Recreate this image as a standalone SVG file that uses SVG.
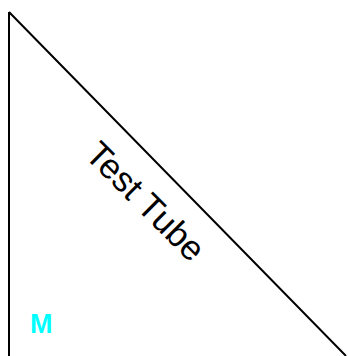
<svg xmlns="http://www.w3.org/2000/svg" width="348" height="356" viewBox="0 0 348 356">
<style>
.ln{stroke:#000;stroke-width:2;fill:none}
.lbl{font-family:"Liberation Sans",Arial,sans-serif;font-size:35px;fill:#000}
.m{font-family:"Liberation Sans",Arial,sans-serif;font-size:27px;font-weight:bold;fill:#00ffff}
</style>
<rect width="348" height="356" fill="#fff"/>
<g id="tube">
<path class="ln" d="M9,12 L9,356 M9,12 L346,356"/>
</g>
<g id="label">
<text class="lbl" text-anchor="middle" transform="translate(146,201) rotate(45)" y="12.5">Test Tube</text>
</g>
<g id="marker-m">
<text class="m" x="30" y="333">M</text>
</g>
</svg>
